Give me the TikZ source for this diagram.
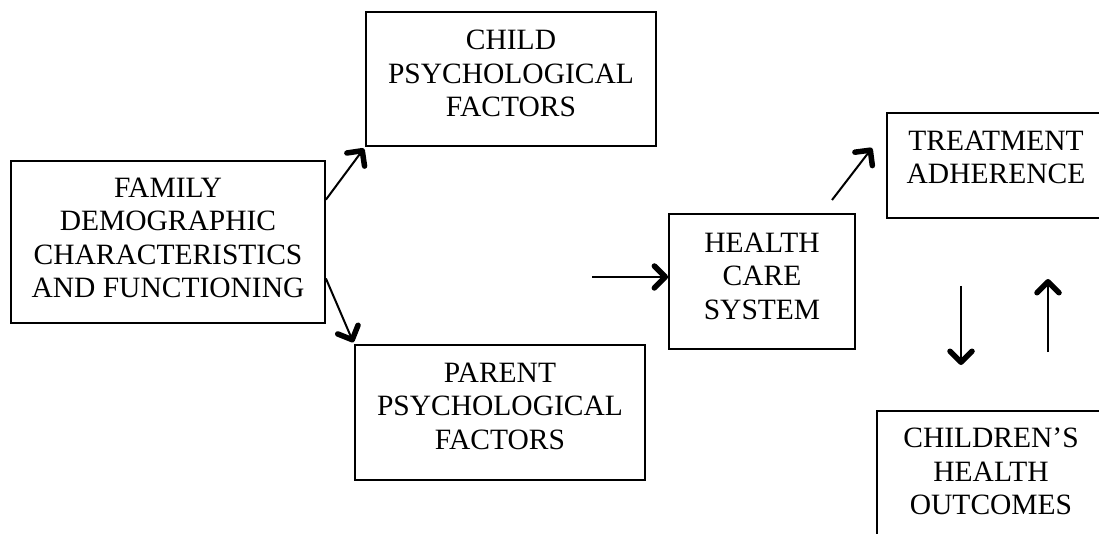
\documentclass[tikz,border=0pt]{standalone}
\usepackage{fontspec}
\setmainfont{Liberation Serif}
\usetikzlibrary{arrows.meta}

\begin{document}
\begin{tikzpicture}[x=1pt,y=-1pt,
    box/.style={draw,line width=1.8pt,align=center,inner sep=0pt,
      font=\fontsize{29.5}{33.5}\selectfont,text depth=11pt},
    arr/.style={line width=2pt,
      -{Straight Barb[length=11pt,width=22pt,line width=5.5pt,round]}}]
     \useasboundingbox (0,0) rectangle (1099,534);
     \clip (0,0) rectangle (1099,534);
     \node[box,minimum width=314pt,minimum height=162pt,text depth=8pt]
          (family)  at (168,242)   {FAMILY\\DEMOGRAPHIC\\CHARACTERISTICS\\AND FUNCTIONING};
     \node[box,minimum width=290pt,minimum height=134pt]
          (child)   at (511,79)    {CHILD\\PSYCHOLOGICAL\\FACTORS};
     \node[box,minimum width=290pt,minimum height=135pt,text depth=13pt]
          (parent)  at (500,412.5) {PARENT\\PSYCHOLOGICAL\\FACTORS};
     \node[box,minimum width=186pt,minimum height=135pt]
          (health)  at (762,281.5) {HEALTH\\CARE\\SYSTEM};
     \node[box,minimum width=218pt,minimum height=105pt,text depth=16pt]
          (treat)   at (996,165.5) {TREATMENT\\ADHERENCE};
     \node[box,minimum width=228pt,minimum height=135pt,text depth=14pt]
          (outcome) at (991,478.5) {CHILDREN’S\\HEALTH\\OUTCOMES};
     \coordinate (hin)  at (592,277);
     \coordinate (tin)  at (832,200);
     \coordinate (tout) at (872,148);
     \coordinate (dn1)  at (961,286);
     \coordinate (dn2)  at (961,365);
     \coordinate (up1)  at (1048,352);
     \coordinate (up2)  at (1048,279);
     \draw[arr,shorten >=2pt] (family.15) -- (child.south west);
     \draw[arr,shorten >=2pt] (family.-13) -- (parent.north west);
     \draw[arr] (hin) -- (hin -| health.west);
     \draw[arr] (tin) -- (tout);
     \draw[arr] (dn1) -- (dn2);
     \draw[arr] (up1) -- (up2);
    \end{tikzpicture}
\end{document}
